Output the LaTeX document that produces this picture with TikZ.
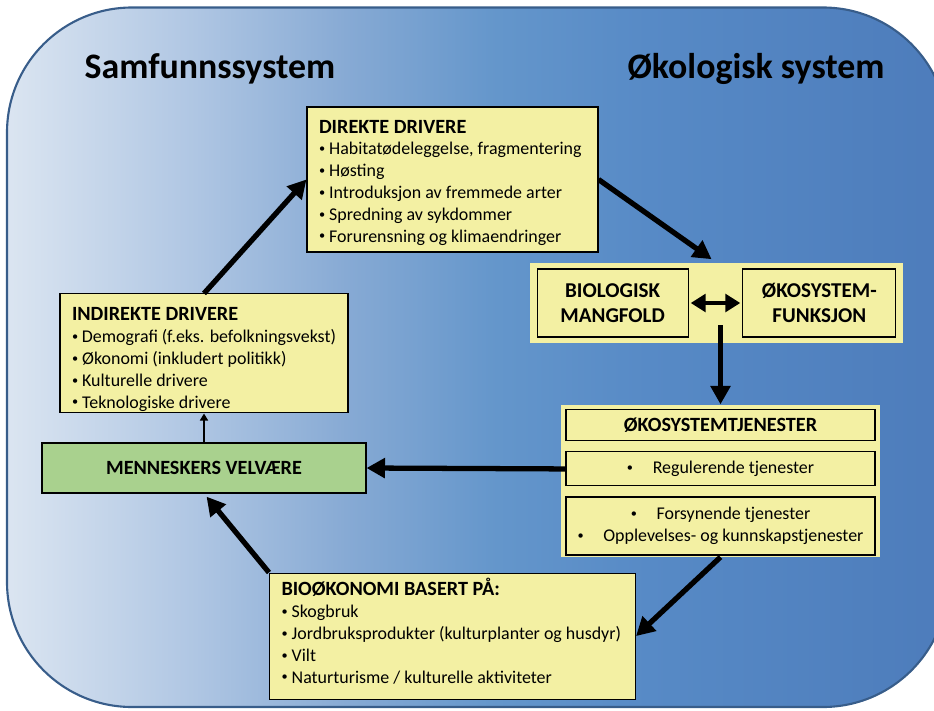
\documentclass[tikz,border=0pt]{standalone}
\usepackage{fontspec}
\setmainfont{Carlito}
\usepackage{tikz}
\usetikzlibrary{positioning}
\usetikzlibrary{arrows.meta}

\definecolor{boxyellow}{RGB}{243,240,163}
\definecolor{boxgreen}{RGB}{169,209,142}
\definecolor{rimblue}{RGB}{56,93,138}

\newcommand{\bul}{\raisebox{0.12em}{\fontsize{7}{7}\selectfont•}}

\pgfdeclarehorizontalshading{bgshade}{100bp}{
  color(0bp)=(rgb,255:red,219;green,229;blue,241);
  color(25bp)=(rgb,255:red,219;green,229;blue,241);
  color(35bp)=(rgb,255:red,175;green,198;blue,227);
  color(43bp)=(rgb,255:red,135;green,170;blue,212);
  color(51bp)=(rgb,255:red,100;green,150;blue,203);
  color(59bp)=(rgb,255:red,87;green,138;blue,198);
  color(75bp)=(rgb,255:red,77;green,124;blue,187);
  color(100bp)=(rgb,255:red,77;green,124;blue,187)}

\begin{document}
\begin{tikzpicture}[
    box/.style={rectangle, draw, line width=0.6pt, fill=boxyellow, inner xsep=0.24cm, inner ysep=0pt, align=flush left, font=\fontsize{10.2}{12.4}\selectfont},
    panel/.style={rectangle, fill=boxyellow, inner sep=0pt},
    inbox/.style={rectangle, draw, line width=0.6pt, fill=boxyellow, inner sep=0pt, align=center, font=\fontsize{10.2}{12.4}\selectfont},
    headline/.style={font=\fontsize{20.4}{24}\selectfont\bfseries, anchor=base, inner sep=0pt},
    arrow/.style={-{Triangle[length=10.5pt, width=11pt]}, line width=3pt},
    thinarrow/.style={-{Triangle[length=4pt, width=4.5pt]}, line width=1pt},
    twoway/.style={{Triangle[length=8.5pt, width=10pt]}-{Triangle[length=8.5pt, width=10pt]}, line width=2.5pt}
]

% Background
\useasboundingbox (0,0) rectangle (18.68,-14.2);
\begin{scope}
  \clip (0,0) rectangle (18.68,-14.2);
  \shadedraw[shading=bgshade, draw=rimblue, line width=1.2pt, rounded corners=2.5cm] (0.14,-0.15) rectangle (18.96,-14.14);
\end{scope}

% Headings
\node[headline] (samfunn) at (4.2,-1.57) {Samfunnssystem};
\node[headline] (okolog) at (15.12,-1.57) {Økologisk system};

% Drivers
\node[box, text width=5.34cm, minimum height=2.9cm] (direkte) at (9.05,-3.59) {\rule{0pt}{11pt}{\fontsize{11.5}{12.4}\selectfont\bfseries DIREKTE DRIVERE}\\
  \bul\ Habitatødeleggelse, fragmentering\\
  \bul\ Høsting\\
  \bul\ Introduksjon av fremmede arter\\
  \bul\ Spredning av sykdommer\\
  \bul\ Forurensning og klimaendringer};
\node[box, fill=boxgreen, align=center, minimum width=6.48cm, minimum height=1cm, font=\fontsize{11.5}{12.4}\selectfont\bfseries] (velvaere) at (4.08,-9.36) {MENNESKERS VELVÆRE};
\node[box, text width=5.28cm, minimum height=2.38cm] (indirekte) [above=0.58cm of velvaere] {\rule{0pt}{14.4pt}{\fontsize{11.5}{12.4}\selectfont\bfseries INDIREKTE DRIVERE}\\
  \bul\ Demografi (f.eks. befolkningsvekst)\\
  \bul\ Økonomi (inkludert politikk)\\
  \bul\ Kulturelle drivere\\
  \bul\ Teknologiske drivere};
\node[box, text width=6.84cm, minimum height=2.52cm] (bioeko) [below=6.4cm of direkte] {{\fontsize{11.5}{12.4}\selectfont\bfseries BIOØKONOMI BASERT PÅ:}\\
  \bul\ Skogbruk\\
  \bul\ Jordbruksprodukter (kulturplanter og husdyr)\\
  \bul\ Vilt\\
  \bul\ Naturturisme / kulturelle aktiviteter\rule[-6pt]{0pt}{6pt}};

% Ecological system
\node[panel, minimum width=7.46cm, minimum height=1.6cm] (biopanel) at (14.33,-6.06) {};
\node[inbox, minimum width=3.02cm, minimum height=1.36cm, font=\fontsize{12}{14.6}\selectfont\bfseries] (mangfold) [right=0.14cm of biopanel.west] {BIOLOGISK\\MANGFOLD};
\node[inbox, minimum width=3.06cm, minimum height=1.36cm, font=\fontsize{12}{14.6}\selectfont\bfseries] (funksjon) [left=0.14cm of biopanel.east] {ØKOSYSTEM-\\FUNKSJON};
\node[panel, minimum width=6.38cm, minimum height=3.04cm, xshift=0.08cm] (tjpanel) [below=1.22cm of biopanel] {};
\node[inbox, minimum width=6.18cm, minimum height=0.62cm, font=\fontsize{11.5}{12.4}\selectfont\bfseries] (tjtitle) [below=0.1cm of tjpanel.north] {ØKOSYSTEMTJENESTER};
\node[inbox, minimum width=6.18cm, minimum height=0.68cm] (regul) [below=0.2cm of tjtitle] {\bul\hspace{1.1em}Regulerende tjenester};
\node[inbox, minimum width=6.18cm, minimum height=1.16cm] (forsyn) [below=0.2cm of regul] {\bul\hspace{1.1em}Forsynende tjenester\\\bul\hspace{1.1em}Opplevelses- og kunnskapstjenester};

% Flows
\coordinate (vtop) at ([yshift=-0.44cm]biopanel.center);
\draw[arrow] (indirekte.north) -- (direkte.west);
\draw[arrow, shorten >=0.12cm] (direkte.east) -- (biopanel.north);
\draw[twoway, shorten <=0.04cm, shorten >=0.04cm] (mangfold) -- (funksjon);
\draw[arrow] (vtop -| tjpanel.north) -- (tjpanel.north);
\draw[arrow] (regul.west) -- (velvaere.east);
\draw[arrow] (tjpanel.south) -- (bioeko.east);
\draw[arrow, shorten >=0.08cm] (bioeko.north west) -- (velvaere.south);
\draw[thinarrow] (velvaere.north) -- (indirekte.south);

\end{tikzpicture}
\end{document}
